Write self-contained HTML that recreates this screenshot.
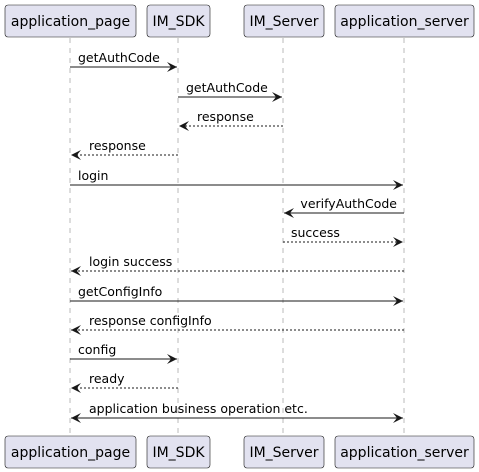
<!DOCTYPE html>
<html><head><meta charset="utf-8"><style>
html,body{margin:0;padding:0;background:#fff;}
svg{display:block;font-family:"DejaVu Sans","Liberation Sans",sans-serif;}
</style></head><body>
<svg width="479" height="472" viewBox="0 0 479 472" xmlns="http://www.w3.org/2000/svg">
<defs>
<marker id="a" viewBox="0 0 10 10" refX="10" refY="5" markerWidth="10" markerHeight="10" orient="auto-start-reverse" markerUnits="userSpaceOnUse"><path d="M0,0 L10,5 L0,10 L4,5 Z" fill="#181818"/></marker>
</defs>
<g stroke="#777" stroke-width="0.5" stroke-dasharray="5,5">
<line x1="70" y1="38" x2="70" y2="436"/>
<line x1="178" y1="38" x2="178" y2="436"/>
<line x1="283" y1="38" x2="283" y2="436"/>
<line x1="404" y1="38" x2="404" y2="436"/>
</g>
<g fill="#E2E2F0" stroke="#181818" stroke-width="0.6">
<rect x="5" y="5" width="131" height="32" rx="3"/>
<rect x="147" y="5" width="63" height="32" rx="3"/>
<rect x="244" y="5" width="80" height="32" rx="3"/>
<rect x="335" y="5" width="139" height="32" rx="3"/>
<rect x="5" y="436" width="131" height="32" rx="3"/>
<rect x="147" y="436" width="63" height="32" rx="3"/>
<rect x="244" y="436" width="80" height="32" rx="3"/>
<rect x="335" y="436" width="139" height="32" rx="3"/>
</g>
<g font-size="14" fill="#000" text-anchor="middle">
<text x="70.5" y="26">application_page</text>
<text x="178.5" y="26">IM_SDK</text>
<text x="284" y="26">IM_Server</text>
<text x="404.5" y="26">application_server</text>
<text x="70.5" y="457">application_page</text>
<text x="178.5" y="457">IM_SDK</text>
<text x="284" y="457">IM_Server</text>
<text x="404.5" y="457">application_server</text>
</g>
<g stroke="#181818" stroke-width="1" marker-end="url(#a)">
<line x1="70" y1="67" x2="177" y2="67"/>
<line x1="178" y1="97" x2="282" y2="97"/>
<line x1="283" y1="126" x2="179" y2="126" stroke-dasharray="2,2"/>
<line x1="178" y1="155" x2="71" y2="155" stroke-dasharray="2,2"/>
<line x1="70" y1="185" x2="403" y2="185"/>
<line x1="404" y1="213" x2="284" y2="213"/>
<line x1="283" y1="242" x2="403" y2="242" stroke-dasharray="2,2"/>
<line x1="404" y1="271" x2="71" y2="271" stroke-dasharray="2,2"/>
<line x1="70" y1="301" x2="403" y2="301"/>
<line x1="404" y1="330" x2="71" y2="330" stroke-dasharray="2,2"/>
<line x1="70" y1="359" x2="177" y2="359"/>
<line x1="178" y1="388" x2="71" y2="388" stroke-dasharray="2,2"/>
<line x1="71" y1="418" x2="403" y2="418" marker-start="url(#a)"/>
</g>
<g font-size="12.5" fill="#000">
<text x="78" y="62">getAuthCode</text>
<text x="186" y="92">getAuthCode</text>
<text x="197" y="121">response</text>
<text x="89" y="150">response</text>
<text x="78" y="180">login</text>
<text x="397" y="208" text-anchor="end">verifyAuthCode</text>
<text x="291" y="237">success</text>
<text x="89" y="266">login success</text>
<text x="78" y="296">getConfigInfo</text>
<text x="89" y="325">response configInfo</text>
<text x="78" y="354">config</text>
<text x="89" y="383">ready</text>
<text x="89" y="413">application business operation etc.</text>
</g>
</svg>
</body></html>
